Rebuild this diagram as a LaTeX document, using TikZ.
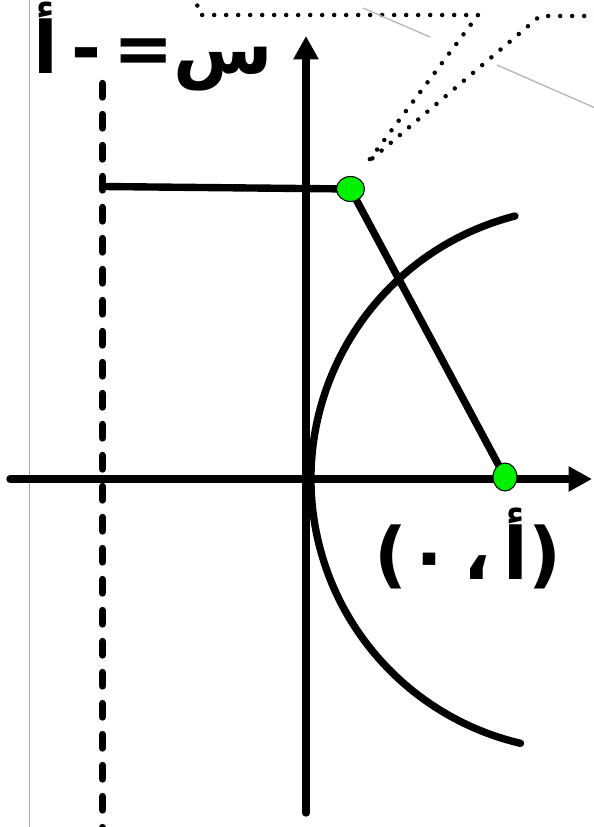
\documentclass[tikz,border=0pt]{standalone}
\usepackage{fontspec}
\usetikzlibrary{arrows.meta,positioning,shapes.geometric}
\newfontfamily\arabicfont[Script=Arabic,WordSpace=0.5]{DejaVu Sans}
\TeXXeTstate=1
\definecolor{ptgreen}{HTML}{00F000}

\begin{document}
\begin{tikzpicture}[
  axis/.style={line width=4.2pt,line cap=round,-{Triangle[length=0.47cm,width=0.48cm]}},
  curve/.style={line width=4.2pt,line cap=round},
  directrix/.style={line width=4.2pt,line cap=round,dash pattern=on 0.27cm off 0.35cm},
  callout/.style={line width=0.09cm,line cap=round,dash pattern=on 0pt off 0.24cm},
  ptdot/.style={ellipse,draw=black,line width=0.6pt,fill=ptgreen,inner sep=0pt},
  lbl/.style={font=\arabicfont\bfseries\fontsize{41}{49}\selectfont,inner sep=0pt,anchor=base}
]
  \useasboundingbox (-6.12,-6.96) rectangle (5.74,9.58);
  % Frame edge
  \draw[gray!70,line width=0.5pt] (-5.54,9.58) -- (-5.54,-6.96);
  % Callout (cut off)
  \coordinate (tip) at (1.22,6.32);
  \draw[callout] (-2.24,9.7) -- (-2.12,9.28) -- (3.44,9.28) -- (tip) -- (4.68,9.26) -- (5.9,9.26);
  \draw[gray!60,line width=0.7pt] (1.14,9.42) -- (2.48,8.84);
  \draw[gray!60,line width=0.7pt] (3.82,8.28) -- (5.9,7.37);
  % Axes
  \coordinate (xl) at (-5.92,0);
  \coordinate (xr) at (5.72,0);
  \coordinate (yb) at (0,-6.68);
  \coordinate (yt) at (0,8.86);
  \draw[axis] (xl) -- (xr);
  \draw[axis] (yb) -- (yt);
  % Directrix
  \coordinate (dt) at (-4.07,7.91);
  \coordinate (db) at (-4.07,-7.2);
  \draw[directrix] (dt) -- (db);
  % Curve
  \coordinate (C) at (5.53,0);
  \draw[curve] ([shift={(104.4:5.43)}]C) arc[start angle=104.4,end angle=256.8,radius=5.43];
  % Point, foot and focus
  \coordinate (D) at (-4.07,5.85);
  \coordinate (p) at (0.89,5.8);
  \coordinate (f) at (3.98,0.04);
  \draw[curve] (D) -- (p) -- (f);
  \node[ptdot,minimum width=0.56cm,minimum height=0.5cm] (P) at (p) {};
  \node[ptdot,minimum width=0.48cm,minimum height=0.56cm] (F) at (f) {};
  % Labels
  \node[lbl] (eq) at (-3.05,8.1) {\beginR س= - أ\endR};
  \node[lbl] (foc) at (3.24,-2.0) {\beginR(أ ، ٠)\endR};
\end{tikzpicture}
\end{document}
